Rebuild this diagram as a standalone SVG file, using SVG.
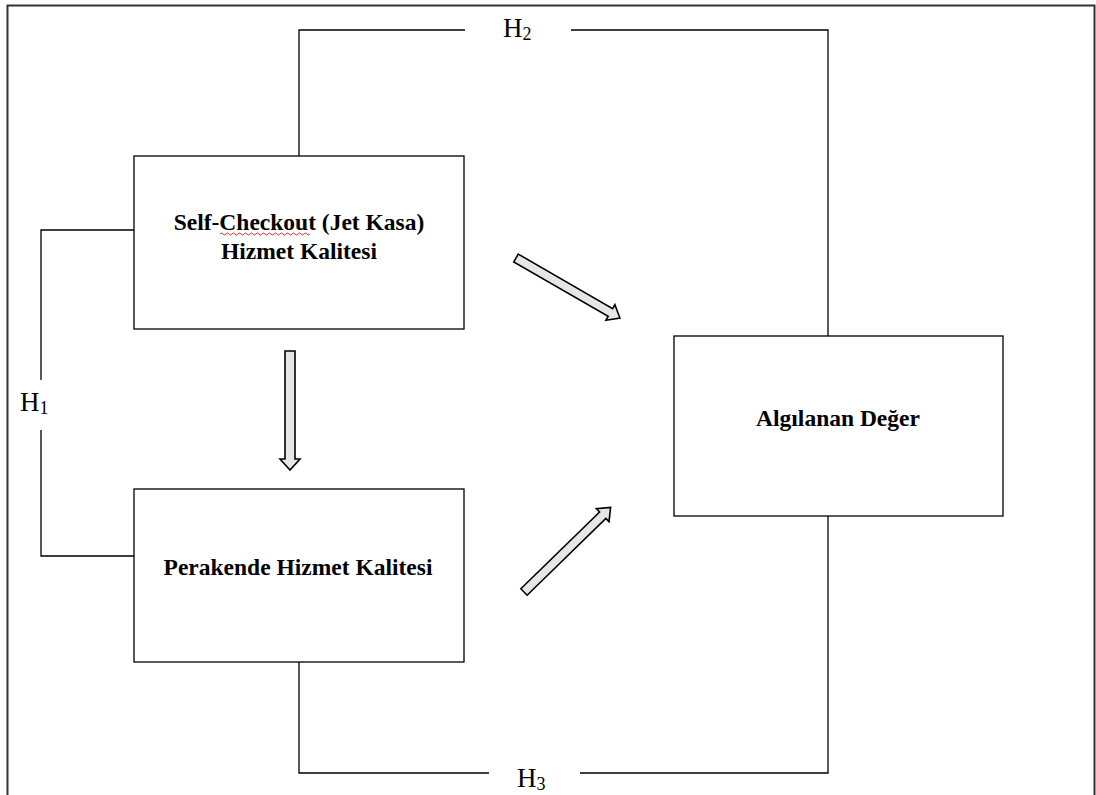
<svg xmlns="http://www.w3.org/2000/svg" width="1096" height="795" viewBox="0 0 1096 795">
<style>
.box{fill:#fff;stroke:#000;stroke-width:1.3}
.ln{fill:none;stroke:#000;stroke-width:1.3}
.ar{fill:#e6e6e6;stroke:#000;stroke-width:1.6;stroke-linejoin:miter}
.t{font-family:"Liberation Serif",serif;font-weight:bold;font-size:23.5px;text-anchor:middle;fill:#000}
.h{font-family:"Liberation Serif",serif;font-size:27px;fill:#000}
.s{font-size:18px}
</style>
<rect x="0" y="0" width="1096" height="795" fill="#fff"/>
<path d="M7.5,795 V5.5 H1094.5 V795" fill="none" stroke="#333" stroke-width="2"/>
<g id="connectors">
<path class="ln" d="M299,156 V30 H465 M571,30 H828 V336"/>
<path class="ln" d="M299,662 V773 H489 M580,773 H828 V516"/>
<path class="ln" d="M134,230 H41 V380 M41,430 V556 H134"/>
<text class="h" x="503" y="37">H<tspan class="s" dy="3">2</tspan></text>
<text class="h" x="517" y="787">H<tspan class="s" dy="3">3</tspan></text>
<text class="h" x="20" y="411">H<tspan class="s" dy="3">1</tspan></text>
<g transform="translate(290,351) rotate(90)"><polygon class="ar" points="0,-5 108,-5 108,-10 119,0 108,10 108,5 0,5"/></g>
<g transform="translate(516,258) rotate(30)"><polygon class="ar" points="0,-4.5 109,-4.5 109,-9 120,0 109,9 109,4.5 0,4.5"/></g>
<g transform="translate(524,592) rotate(-44.3)"><polygon class="ar" points="0,-4.5 110,-4.5 110,-9 121,0 110,9 110,4.5 0,4.5"/></g>
</g>
<g id="n1">
<rect class="box" x="134" y="156" width="330" height="173"/>
<text class="t" x="299" y="230">Self-Checkout (Jet Kasa)</text>
<text class="t" x="299" y="259">Hizmet Kalitesi</text>
<path d="M220,234 q1.5,-2 3,0 t3,0 t3,0 t3,0 t3,0 t3,0 t3,0 t3,0 t3,0 t3,0 t3,0 t3,0 t3,0 t3,0 t3,0 t3,0 t3,0 t3,0 t3,0 t3,0 t3,0 t3,0 t3,0 t3,0 t3,0 t3,0 t3,0 t3,0 t3,0 t3,0" fill="none" stroke="#e03030" stroke-width="1"/>
</g>
<g id="n2">
<rect class="box" x="134" y="489" width="330" height="173"/>
<text class="t" x="298" y="575">Perakende Hizmet Kalitesi</text>
</g>
<g id="n3">
<rect class="box" x="674" y="336" width="329" height="180"/>
<text class="t" x="838" y="426">Algılanan Değer</text>
</g>
</svg>
